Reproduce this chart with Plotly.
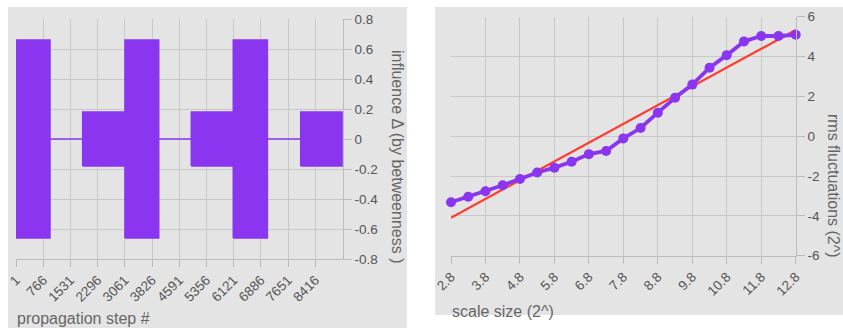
import plotly.graph_objects as go

# ---- left panel: influence signal, summarised as amplitude blocks ----
seg_start = [1, 956, 1876, 3066, 4013, 4931, 6112, 7069, 8008]
seg_end = [956, 1876, 3066, 4013, 4931, 6112, 7069, 8008, 9188]
seg_amp = [0.66, 0.0, 0.18, 0.66, 0.0, 0.18, 0.66, 0.0, 0.18]

step_ticks = [1, 766, 1531, 2296, 3061, 3826, 4591, 5356, 6121, 6886, 7651, 8416]
infl_ticks = [0.8, 0.6, 0.4, 0.2, 0, -0.2, -0.4, -0.6, -0.8]
infl_labels = ["0.8", "0.6", "0.4", "0.2", "0", "-0.2", "-0.4", "-0.6", "-0.8"]

# ---- right panel: rms fluctuations vs scale size ----
scale = [2.8, 3.3, 3.8, 4.3, 4.8, 5.3, 5.8, 6.3, 6.8, 7.3, 7.8,
         8.3, 8.8, 9.3, 9.8, 10.3, 10.8, 11.3, 11.8, 12.3, 12.8]
rms = [-3.32, -3.04, -2.76, -2.46, -2.15, -1.82, -1.58, -1.28, -0.90, -0.74, -0.11,
       0.41, 1.18, 1.93, 2.59, 3.44, 4.07, 4.76, 5.03, 5.03, 5.09]
fit_x = [2.8, 12.8]
fit_y = [-4.09, 5.33]

scale_ticks = [2.8, 3.8, 4.8, 5.8, 6.8, 7.8, 8.8, 9.8, 10.8, 11.8, 12.8]
scale_labels = ["2.8", "3.8", "4.8", "5.8", "6.8", "7.8", "8.8", "9.8", "10.8", "11.8", "12.8"]
rms_ticks = [6, 4, 2, 0, -2, -4, -6]
rms_labels = ["6", "4", "2", "0", "-2", "-4", "-6"]

PURPLE = "#8a35f0"
RED = "#ff3b2f"
PANEL = "#e4e4e4"
GRID = "#c9c9c9"
AXIS = "#bcbcbc"
TICKFONT = dict(family="Liberation Sans, Arial", size=13.5, color="#555555")
TITLEFONT = dict(family="Liberation Sans, Arial", size=16, color="#666666")

W, H = 843, 328


def px(x):
    return x / W


def py(y):
    return 1 - y / H


# build block outlines (closed polygons separated by gaps)
bx, by = [], []
for s, e, a in zip(seg_start, seg_end, seg_amp):
    bx += [s, e, e, s, s, None]
    by += [-a, -a, a, a, -a, None]

fig = go.Figure()

fig.add_trace(go.Scatter(
    x=bx, y=by, mode="lines", fill="toself", fillcolor=PURPLE,
    line=dict(color=PURPLE, width=1.6), xaxis="x", yaxis="y",
    hoverinfo="skip", showlegend=False,
))

fig.add_trace(go.Scatter(
    x=fit_x, y=fit_y, mode="lines", line=dict(color=RED, width=2.2),
    xaxis="x2", yaxis="y2", showlegend=False, cliponaxis=False,
))
fig.add_trace(go.Scatter(
    x=scale, y=rms, mode="lines+markers",
    line=dict(color=PURPLE, width=3.8), marker=dict(color=PURPLE, size=10),
    xaxis="x2", yaxis="y2", showlegend=False, cliponaxis=False,
))

common_x = dict(showgrid=True, gridcolor=GRID, gridwidth=1, zeroline=False,
                showline=True, linecolor=AXIS, ticks="outside", ticklen=7,
                tickcolor=AXIS, tickangle=-45, tickfont=TICKFONT, automargin=False)
common_y = dict(showgrid=True, gridcolor=GRID, gridwidth=1, zeroline=False,
                showline=True, linecolor=AXIS, ticks="outside", ticklen=8,
                tickcolor=AXIS, side="right", tickfont=TICKFONT, automargin=False)

fig.update_layout(
    width=W, height=H,
    margin=dict(l=0, r=0, t=0, b=0, autoexpand=False),
    paper_bgcolor="white",
    plot_bgcolor=PANEL,
    xaxis=dict(domain=[px(16), px(342.7)], range=[1, 9188],
               tickvals=step_ticks, ticktext=[str(v) for v in step_ticks],
               anchor="y", **common_x),
    yaxis=dict(domain=[py(259), py(19)], range=[-0.8, 0.8],
               tickvals=infl_ticks, ticktext=infl_labels,
               anchor="x", **common_y),
    xaxis2=dict(domain=[px(451), px(795.7)], range=[2.8, 12.8],
                tickvals=scale_ticks, ticktext=scale_labels,
                anchor="y2", **common_x),
    yaxis2=dict(domain=[py(255.7), py(16.7)], range=[-6, 6],
                tickvals=rms_ticks, ticktext=rms_labels,
                anchor="x2", **common_y),
    shapes=[
        dict(type="rect", xref="paper", yref="paper", layer="below",
             x0=px(8), x1=px(407), y0=py(328), y1=py(7),
             fillcolor=PANEL, line=dict(width=0)),
        dict(type="rect", xref="paper", yref="paper", layer="below",
             x0=px(435), x1=px(843), y0=py(315), y1=py(7),
             fillcolor=PANEL, line=dict(width=0)),
    ],
    annotations=[
        dict(text="propagation step #", xref="paper", yref="paper",
             x=px(15), y=py(318), xanchor="left", yanchor="middle",
             showarrow=False, font=TITLEFONT),
        dict(text="influence \u0394 (by betweenness )", xref="paper", yref="paper",
             x=px(398), y=py(156), xanchor="center", yanchor="middle",
             textangle=90, showarrow=False, font=TITLEFONT),
        dict(text="scale size (2^)", xref="paper", yref="paper",
             x=px(450), y=py(311), xanchor="left", yanchor="middle",
             showarrow=False, font=TITLEFONT),
        dict(text="rms fluctuations (2^)", xref="paper", yref="paper",
             x=px(833), y=py(186), xanchor="center", yanchor="middle",
             textangle=90, showarrow=False, font=TITLEFONT),
    ],
)

fig.write_html("out.html")
